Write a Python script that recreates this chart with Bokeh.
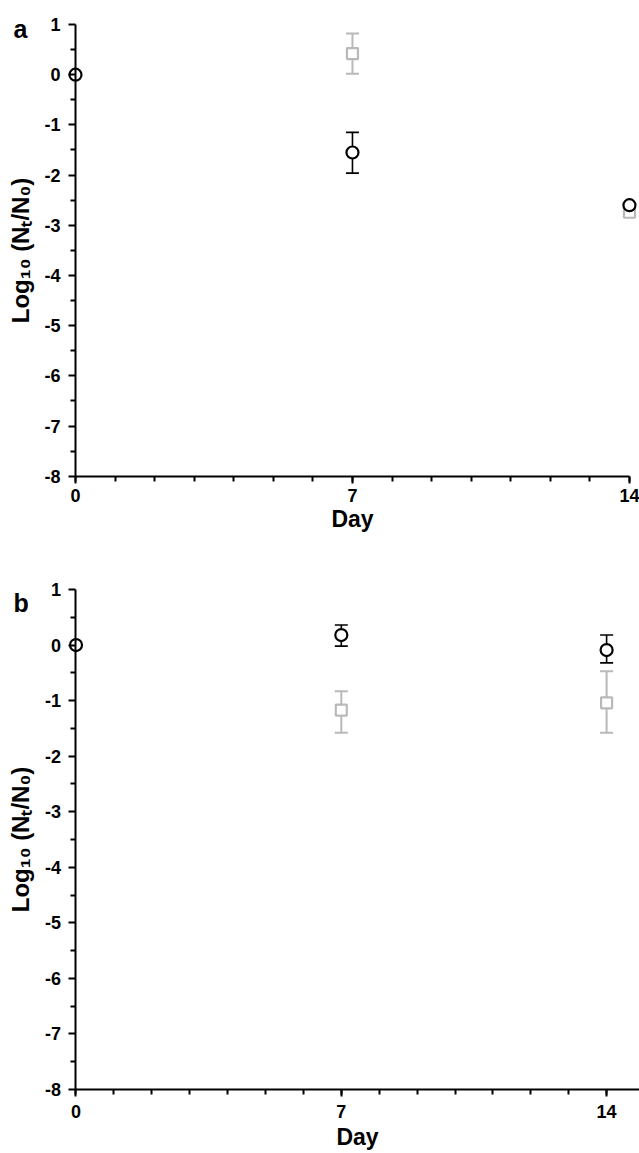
import math
from bokeh.plotting import figure
from bokeh.models import (ColumnDataSource, Whisker, TeeHead, FixedTicker, Range1d,
                          Label)
from bokeh.layouts import column
from bokeh.embed import file_html
from bokeh.resources import INLINE

NAN = float("nan")

# ---- data ----
x_ticks = [0, 7, 14]
x_minor = list(range(0, 15))
y_ticks = list(range(-8, 2))
y_minor = [v + 0.5 for v in range(-8, 1)]
y_tick_labels = {v: str(v) for v in y_ticks}

# panel a
a_black_day = [0, 7, 14]
a_black_val = [0.0, -1.55, -2.6]
a_black_up = [NAN, -1.15, NAN]
a_black_lo = [NAN, -1.96, NAN]
a_gray_day = [7, 14]
a_gray_val = [0.42, -2.74]
a_gray_up = [0.82, NAN]
a_gray_lo = [0.02, NAN]

# panel b
b_black_day = [0, 7, 14]
b_black_val = [0.0, 0.18, -0.09]
b_black_up = [NAN, 0.36, 0.18]
b_black_lo = [NAN, -0.02, -0.32]
b_gray_day = [7, 14]
b_gray_val = [-1.17, -1.04]
b_gray_up = [-0.83, -0.47]
b_gray_lo = [-1.58, -1.58]

FONT = "'Liberation Sans', Arial, sans-serif"
GRAY = "#b9b9b9"


def err_source(days, up, lo):
    keep = [i for i in range(len(days)) if not math.isnan(up[i])]
    return ColumnDataSource(dict(x=[days[i] for i in keep],
                                 up=[up[i] for i in keep],
                                 lo=[lo[i] for i in keep]))


def make_panel(tag, tag_x, tag_y, bd, bv, bu, bl, gd, gv, gu, gl, height,
               xr, yr, xbounds, tick_standoff, label_standoff):
    p = figure(width=639, height=height, output_backend="svg", toolbar_location=None,
               x_range=Range1d(*xr), y_range=Range1d(*yr))
    p.min_border = 0
    p.min_border_left = 0
    p.min_border_right = 0
    p.min_border_top = 0
    p.min_border_bottom = 0
    p.outline_line_color = None
    p.grid.visible = False
    p.background_fill_color = "white"

    for ax in (p.xaxis[0], p.yaxis[0]):
        ax.axis_line_width = 2
        ax.axis_line_color = "black"
        ax.major_tick_line_width = 2
        ax.minor_tick_line_width = 2
        ax.major_tick_line_color = "black"
        ax.minor_tick_line_color = "black"
        ax.major_tick_in = 0
        ax.minor_tick_in = 0
        ax.major_tick_out = 7
        ax.minor_tick_out = 5
        ax.major_label_text_font = FONT
        ax.major_label_text_font_style = "bold"
        ax.major_label_text_font_size = "18px"
        ax.major_label_text_color = "black"
        ax.axis_label_text_font = FONT
        ax.axis_label_text_font_style = "bold"
        ax.axis_label_text_color = "black"

    xa = p.xaxis[0]
    ya = p.yaxis[0]
    xa.ticker = FixedTicker(ticks=x_ticks, minor_ticks=x_minor)
    ya.ticker = FixedTicker(ticks=y_ticks, minor_ticks=y_minor)
    ya.major_label_overrides = y_tick_labels
    xa.bounds = xbounds
    ya.bounds = (-8, 1)
    ya.fixed_location = 0
    xa.fixed_location = -8
    xa.axis_label = "Day"
    xa.axis_label_text_font_size = "23px"
    ya.axis_label = "Log\u2081\u2080 (N\u209c/N\u2080)"
    ya.axis_label_text_font_size = "24px"
    xa.major_label_standoff = tick_standoff
    xa.axis_label_standoff = label_standoff
    ya.major_label_standoff = 8
    ya.axis_label_standoff = 7

    gpts = ColumnDataSource(dict(x=gd, y=gv))
    bpts = ColumnDataSource(dict(x=bd, y=bv))
    gerr = err_source(gd, gu, gl)
    berr = err_source(bd, bu, bl)

    p.add_layout(Whisker(source=gerr, base="x", upper="up", lower="lo",
                         line_color=GRAY, line_width=2,
                         upper_head=TeeHead(size=13, line_color=GRAY, line_width=2),
                         lower_head=TeeHead(size=13, line_color=GRAY, line_width=2)))
    p.add_layout(Whisker(source=berr, base="x", upper="up", lower="lo",
                         line_color="black", line_width=1.6,
                         upper_head=TeeHead(size=13, line_color="black", line_width=1.6),
                         lower_head=TeeHead(size=13, line_color="black", line_width=1.6)))

    p.scatter("x", "y", source=gpts, marker="square", size=11,
              line_color=GRAY, line_width=2.2, fill_color="white")
    p.scatter("x", "y", source=bpts, marker="circle", size=12,
              line_color="black", line_width=2.2, fill_color="white")

    p.add_layout(Label(x=tag_x, y=tag_y, text=tag, text_font=FONT,
                       text_font_style="bold", text_font_size="25px",
                       text_color="black", text_baseline="alphabetic",
                       text_align="left"))
    return p


pa = make_panel("a", -1.567, 0.92, a_black_day, a_black_val, a_black_up, a_black_lo,
                a_gray_day, a_gray_val, a_gray_up, a_gray_lo,
                height=568, xr=(-1.895, 14.254), yr=(-9.837, 1.478), xbounds=(0, 14),
                tick_standoff=6, label_standoff=0)
pb = make_panel("b", -1.649, 0.766, b_black_day, b_black_val, b_black_up, b_black_lo,
                b_gray_day, b_gray_val, b_gray_up, b_gray_lo,
                height=585, xr=(-1.992, 14.868), yr=(-9.151, 1.378),
                xbounds=(0, 14.868), tick_standoff=8, label_standoff=3)

layout = column(pa, pb, spacing=0)
open("out.html", "w").write(file_html(layout, INLINE))
